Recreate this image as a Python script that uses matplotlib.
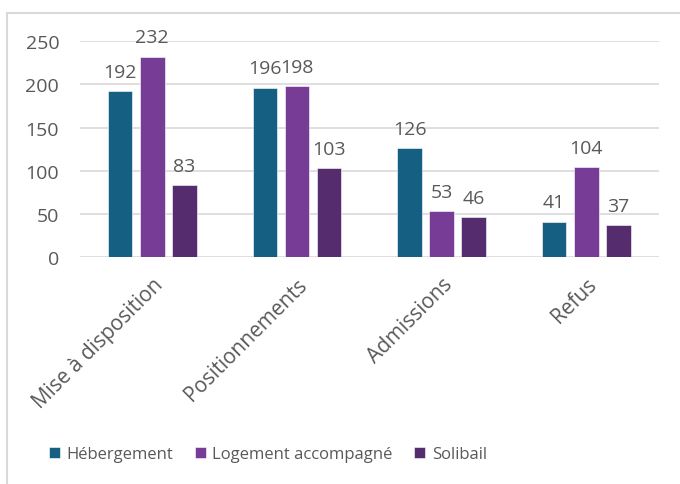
import matplotlib.pyplot as plt
from matplotlib.lines import Line2D
import numpy as np

plt.rcParams['font.family'] = ['Open Sans', 'DejaVu Sans']

categories = ['Mise à disposition', 'Positionnements', 'Admissions', 'Refus']
series_names = ['Hébergement', 'Logement accompagné', 'Solibail']
hebergement = [192, 196, 126, 41]
logement = [232, 198, 53, 104]
solibail = [83, 103, 46, 37]
colors = ['#156082', '#773d96', '#552c6e']
text_color = '#595959'

fig = plt.figure(figsize=(6.8, 4.85), dpi=100)
ax = fig.add_axes([0.1176, 0.468, 0.851, 0.445])

x = np.arange(len(categories))
width = 0.17
step = 0.222
for i, (vals, name) in enumerate(zip([hebergement, logement, solibail], series_names)):
    pos = x + (i - 1) * step
    ax.bar(pos, vals, width, color=colors[i], label=name, zorder=3,
           edgecolor='white', linewidth=0.4)
    for xp, v in zip(pos, vals):
        ax.text(xp, v + 12, str(v), ha='center', va='bottom', fontsize=14,
                color=text_color)

ax.set_xlim(-0.5, len(categories) - 0.5)
ax.set_ylim(0, 250)
ax.set_yticks(range(0, 251, 50))
ax.yaxis.grid(True, color='#d9d9d9', linewidth=1.2, zorder=0)
for s in ax.spines.values():
    s.set_visible(False)
ax.tick_params(axis='both', length=0, colors=text_color, labelsize=14)
ax.tick_params(axis='y', pad=15)
ax.tick_params(axis='x', pad=12, labelsize=15)
ax.set_xticks(x)
ax.set_xticklabels(categories, rotation=45, ha='right', rotation_mode='anchor')

leg = fig.legend(loc='center', bbox_to_anchor=(0.394, 0.062), ncol=3, frameon=False,
                 fontsize=12, handlelength=0.65, handleheight=0.65, handletextpad=0.4,
                 columnspacing=1.3)
for t in leg.get_texts():
    t.set_color(text_color)

# chart frame (top and left edges visible in crop)
fig.add_artist(Line2D([7 / 680, 7 / 680], [0, 1 - 14 / 485], transform=fig.transFigure,
                      color='#d9d9d9', linewidth=1.5))
fig.add_artist(Line2D([7 / 680, 1], [1 - 14 / 485, 1 - 14 / 485], transform=fig.transFigure,
                      color='#d9d9d9', linewidth=1.5))

fig.savefig('out.png', dpi=100)
